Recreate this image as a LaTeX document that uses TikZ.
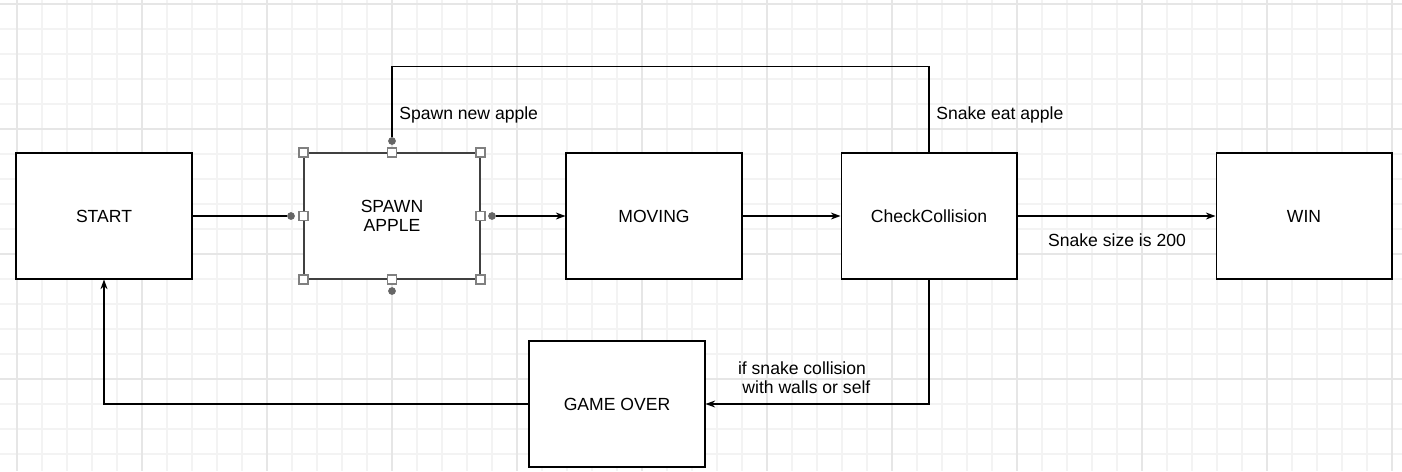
\documentclass[tikz,border=0pt]{standalone}
\usepackage{fontspec}
\setmainfont{Liberation Sans}
\usetikzlibrary{arrows.meta}
\definecolor{gridminor}{HTML}{F3F3F3}
\definecolor{gridmajor}{HTML}{E6E6E6}
\tikzset{
	state/.style={draw=black, fill=white, line width=.6pt, minimum width=3.52cm, minimum height=2.52cm, inner sep=0pt, align=center, font=\fontsize{10}{11}\selectfont},
	link/.style={draw=black, line width=.6pt},
	flow/.style={link, -{Stealth[length=5.5pt,width=4pt]}},
	lbl/.style={font=\fontsize{10}{11}\selectfont, inner sep=0pt, align=center},
	handle/.style={draw=black!50, fill=white, line width=1pt, minimum size=5pt, inner sep=0pt},
	hdot/.style={circle, fill=black!60, minimum size=4.4pt, inner sep=0pt}
}
\begin{document}
\begin{tikzpicture}[x=.02cm, y=-.02cm]
	\useasboundingbox (0,0) rectangle (1402,471);
	% grid
	\fill[white] (0,0) rectangle (1402,471);
	\foreach \x in {-8,17,...,1402} \draw[gridminor, line width=.6pt] (\x,0) -- (\x,471);
	\foreach \y in {4,29,...,471} \draw[gridminor, line width=.6pt] (0,\y) -- (1402,\y);
	\foreach \x in {17,142,...,1402} \draw[gridmajor, line width=.6pt] (\x,0) -- (\x,471);
	\foreach \y in {4,129,...,471} \draw[gridmajor, line width=.6pt] (0,\y) -- (1402,\y);
	% states
	\node[state] (start)    at (104,216)  {START};
	\node[state, draw=black!75] (spawn) at (392,216) {SPAWN\\APPLE};
	\node[state] (moving)   at (654,216)  {MOVING};
	\node[state] (check)    at (929,216)  {CheckCollision};
	\node[state] (win)      at (1304,216) {WIN};
	\node[state] (gameover) at (617,404)  {GAME OVER};
	% selection of spawn
	\foreach \a in {north west,north,north east,east,south east,south,south west,west}
		\node[handle] at (spawn.\a) {};
	\node[hdot] (dtop)   at (392,141) {};
	\node[hdot] (dbot)   at (392,291) {};
	\node[hdot] (dleft)  at (291,216) {};
	\node[hdot] (dright) at (492,216) {};
	% connectors
	\draw[link] (start) -- (dleft);
	\draw[flow] (dright) -- (moving);
	\draw[flow] (moving) -- (check);
	\draw[flow] (check) -- (win);
	\draw[link] (check.north) -- ++(0,-86) -| (dtop);
	\draw[flow] (check.south) |- (gameover.east);
	\draw[flow] (gameover.west) -| (start.south);
	% labels
	\node[lbl, anchor=west] (lnew) at (399,115) {Spawn new apple};
	\node[lbl, anchor=west] (leat) at (936,115) {Snake eat apple};
	\node[lbl] (lsize) at (1117,240) {Snake size is 200};
	\node[lbl] (lhit)  at (802,378)  {if snake collision\\\hspace*{.5em}with walls or self};
\end{tikzpicture}
\end{document}
